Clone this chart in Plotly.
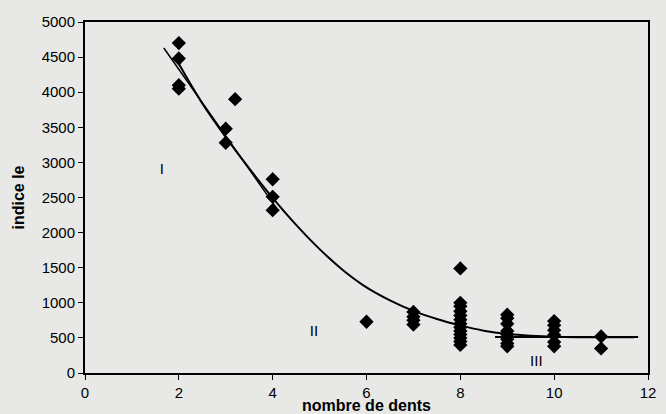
import plotly.graph_objects as go

# Observed points (nombre de dents, indice Ie)
pts_x = [2, 2, 2, 2, 3.2, 3, 3, 4, 4, 4, 6,
         7, 7, 7, 7,
         8, 8, 8, 8, 8, 8, 8, 8, 8, 8, 8, 8, 8,
         9, 9, 9, 9, 9, 9, 9, 9,
         10, 10, 10, 10, 10, 10,
         11, 11]
pts_y = [4700, 4480, 4100, 4050, 3900, 3480, 3280, 2760, 2510, 2320, 730,
         870, 800, 750, 690,
         1490, 1000, 950, 880, 820, 760, 700, 650, 600, 550, 500, 450, 400,
         830, 780, 700, 600, 550, 480, 420, 380,
         740, 680, 610, 540, 440, 380,
         520, 350]

# Fitted curve
curve_x = [1.96, 2.5, 3.0, 3.5, 4.0, 4.5, 5.0, 5.5, 6.0, 6.5, 7.0,
           7.5, 8.0, 8.5, 9.0, 9.5, 10.0, 10.5, 11.0, 11.7]
curve_y = [4450, 3840, 3360, 2915, 2495, 2110, 1765, 1465, 1220, 1035, 885,
           770, 678, 603, 556, 530, 515, 510, 510, 510]

# Linear fit, zone I
lin_x = [1.68, 4.1]
lin_y = [4630, 2330]

# Plateau, zone III
plat_x = [8.74, 11.79]
plat_y = [513, 513]

# Zone labels
zone_text = ["I", "II", "III"]
zone_x = [1.64, 4.88, 9.62]
zone_y = [2890, 584, 157]

xticks = [0, 2, 4, 6, 8, 10, 12]
yticks = [0, 500, 1000, 1500, 2000, 2500, 3000, 3500, 4000, 4500, 5000]

FONT = "Liberation Sans, Arial, sans-serif"
BG = "#e8e8e6"

fig = go.Figure()
fig.add_trace(go.Scatter(x=lin_x, y=lin_y, mode="lines",
                         line=dict(color="black", width=1.5), hoverinfo="skip"))
fig.add_trace(go.Scatter(x=curve_x, y=curve_y, mode="lines",
                         line=dict(color="black", width=2, shape="spline", smoothing=1),
                         hoverinfo="skip"))
fig.add_trace(go.Scatter(x=plat_x, y=plat_y, mode="lines",
                         line=dict(color="black", width=1.8), hoverinfo="skip"))
fig.add_trace(go.Scatter(x=pts_x, y=pts_y, mode="markers",
                         marker=dict(symbol="diamond", size=11, color="black",
                                     line=dict(width=0))))
fig.add_trace(go.Scatter(x=zone_x, y=zone_y, mode="text", text=zone_text,
                         textfont=dict(family=FONT, size=15, color="black")))

fig.update_layout(
    width=666, height=414,
    margin=dict(l=85, r=10, t=22, b=41),
    paper_bgcolor=BG, plot_bgcolor=BG,
    showlegend=False,
    font=dict(family=FONT, size=15, color="black"),
    xaxis=dict(range=[0, 12], tickvals=xticks, ticktext=[str(v) for v in xticks],
               showgrid=False, zeroline=False, showline=True, linecolor="black",
               linewidth=2, mirror=True, ticks="outside", ticklen=5,
               tickcolor="black", tickfont=dict(size=15)),
    yaxis=dict(range=[0, 5000], tickvals=yticks, ticktext=[str(v) for v in yticks],
               showgrid=False, zeroline=False, showline=True, linecolor="black",
               linewidth=2, mirror=True, ticks="outside", ticklen=5,
               tickcolor="black", tickfont=dict(size=15)),
    annotations=[
        dict(text="<b>nombre de dents</b>", xref="paper", yref="paper",
             x=0.5, y=0, yshift=-32, xanchor="center", yanchor="middle",
             showarrow=False, font=dict(size=16)),
        dict(text="<b>indice Ie</b>", xref="paper", yref="paper",
             x=0, y=0.5, xshift=-67, xanchor="center", yanchor="middle",
             textangle=-90, showarrow=False, font=dict(size=16)),
    ],
)

fig.write_html("out.html")
